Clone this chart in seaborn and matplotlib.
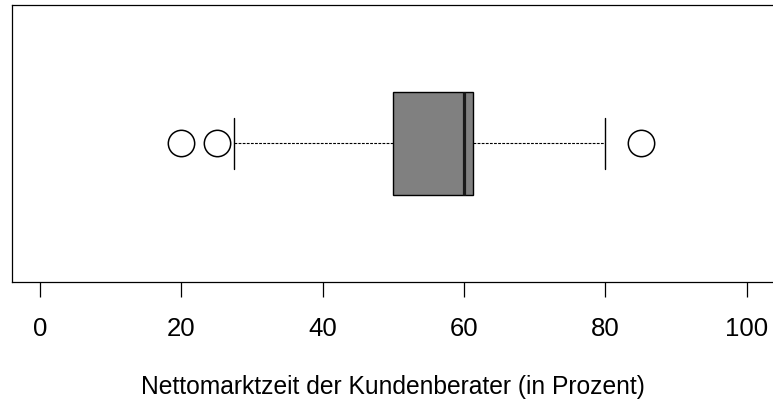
import pandas as pd
import matplotlib
matplotlib.use("Agg")
import matplotlib.pyplot as plt
import seaborn as sns

# Nettomarktzeit in Prozent (Q1 50, median 60, Q3 61.25,
# whiskers 27.5 / 80, outliers 20, 25, 85)
nettomarktzeit = [20, 25, 27.5, 50, 52.5, 57.5, 60, 60, 60, 61.25, 70, 80, 85]
x_ticks = [0, 20, 40, 60, 80, 100]
x_label = "Nettomarktzeit der Kundenberater (in Prozent)"

data = pd.DataFrame({"Nettomarktzeit": nettomarktzeit})

sns.set_style("white")
plt.rcParams["font.family"] = ["Liberation Sans", "DejaVu Sans"]

W, H = 773, 403
fig = plt.figure(figsize=(W / 100, H / 100), dpi=100)
ax = fig.add_axes([11.7 / W, 1 - 282 / H, (775 - 11.7) / W, (282 - 4.7) / H])

sns.boxplot(
    data=data, x="Nettomarktzeit", orient="h", ax=ax,
    width=0.37, whis=2.05, color="#808080", saturation=1,
    linecolor="black", linewidth=1.0,
    fliersize=19,
    flierprops=dict(marker="o", markerfacecolor="white",
                    markeredgecolor="black", markeredgewidth=1.1),
    whiskerprops=dict(linestyle=(0, (2.5, 1.2)), linewidth=0.8),
    medianprops=dict(color="#1a1a1a", linewidth=2.3),
    capprops=dict(linewidth=1.0),
)

ax.set_xlim(-4, 104)
ax.set_ylim(0.5, -0.5)
ax.set_yticks([])
ax.set_ylabel("")
ax.set_xticks(x_ticks)
ax.set_xticklabels([str(t) for t in x_ticks])
ax.tick_params(axis="x", bottom=True, direction="out", length=10.5, width=0.9,
               pad=14.5, labelsize=18.5, colors="black")
for side in ["left", "right", "top", "bottom"]:
    ax.spines[side].set_visible(True)
    ax.spines[side].set_color("black")
    ax.spines[side].set_linewidth(0.9)

ax.set_xlabel(x_label, fontsize=17.7, va="baseline", color="black")
ax.xaxis.set_label_coords(0.5, (282 - 394) / (282 - 4.7))

fig.savefig("out.png", dpi=100, facecolor="white")
